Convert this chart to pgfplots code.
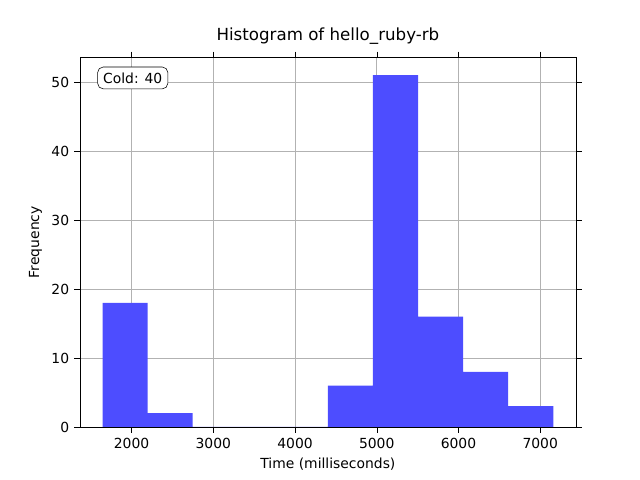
\documentclass[border=0pt]{standalone}
\usepackage{pgfplots}
\pgfplotsset{compat=1.18}
\usepackage{fontspec}
\setmainfont{DejaVu Sans}
\definecolor{barblue}{RGB}{77,77,255}
\begin{document}
\begin{tikzpicture}
\begin{axis}[
  at={(0,0)}, anchor=south west,
  scale only axis, width=357pt, height=266pt,
  xmin=1369, xmax=7436, ymin=0, ymax=53.55,
  xtick={2000,3000,4000,5000,6000,7000},
  ytick={0,10,20,30,40,50},
  /pgf/number format/assume math mode=true,
  /pgf/number format/set thousands separator={},
  grid=major, grid style={gray!60},
  axis on top=false,
  tick align=outside, tick style={black},
  xlabel={Time (milliseconds)}, ylabel={Frequency},
  title={\fontsize{12}{14}\selectfont Histogram of hello\_ruby-rb},
  ticklabel style={font=\fontsize{10}{12}\selectfont},
  label style={font=\fontsize{10}{12}\selectfont},
]
\addplot[ybar interval, fill=barblue, draw=none] coordinates {
(1645,18)(2196,2)(2748,0)(3300,0)(3851,0)(4403,6)(4954,51)(5506,16)(6057,8)(6609,3)(7160,3)};
\node[draw, rounded corners=4pt, fill=white, anchor=north west, font=\fontsize{10}{12}\selectfont, inner sep=4pt] at (rel axis cs:0.035,0.975) {Cold: 40};
\end{axis}
\path (-57.6pt,-38.2pt) rectangle (403.2pt,307.4pt);
\end{tikzpicture}
\end{document}
